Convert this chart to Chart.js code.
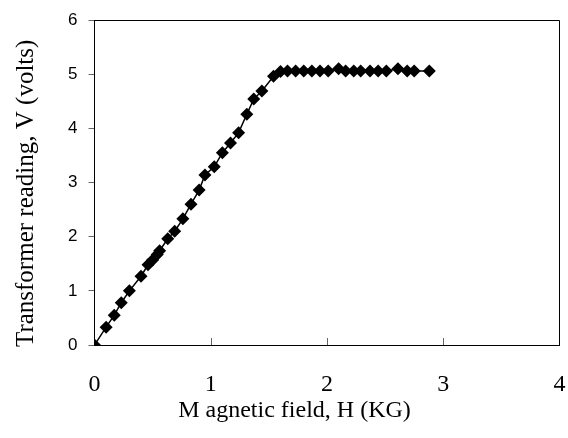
<!DOCTYPE html>
<html>
<head>
<meta charset="utf-8">
<script src="https://cdn.jsdelivr.net/npm/chart.js@4"></script>
<style>
  html, body { margin: 0; padding: 0; background: #fff; }
  #chart-curva { display: block; }
</style>
</head>
<body>
<canvas id="chart-curva" width="568" height="438"></canvas>
<script>
// datos
const campo = [0, 0.1, 0.17, 0.23, 0.3, 0.4, 0.46, 0.5, 0.54, 0.56, 0.63, 0.69, 0.76, 0.83, 0.9,
  0.95, 1.03, 1.1, 1.17, 1.24, 1.31, 1.37, 1.44, 1.54, 1.6, 1.66, 1.73, 1.8, 1.87, 1.94,
  2.01, 2.1, 2.16, 2.23, 2.29, 2.37, 2.44, 2.51, 2.61, 2.69, 2.75, 2.88];
const lectura = [0, 0.33, 0.55, 0.78, 1.0, 1.27, 1.48, 1.57, 1.67, 1.74, 1.96, 2.1, 2.33, 2.6, 2.86,
  3.14, 3.29, 3.55, 3.73, 3.92, 4.26, 4.54, 4.69, 4.96, 5.05, 5.06, 5.06, 5.06, 5.06, 5.06,
  5.06, 5.1, 5.06, 5.06, 5.06, 5.06, 5.06, 5.06, 5.1, 5.06, 5.06, 5.06];
const ticksX = [0, 1, 2, 3, 4];
const ticksY = [0, 1, 2, 3, 4, 5, 6];
const tituloX = "M agnetic field, H (KG)";
const tituloY = "Transformer reading, V (volts)";

const puntos = campo.map((h, i) => ({ x: h, y: lectura[i] }));

// caja del grafico, marcas del eje x hacia dentro y titulos de ejes
const cajaPlugin = {
  id: "caja",
  beforeDatasetsDraw(chart) {
    const { ctx, chartArea, scales } = chart;
    ctx.save();
    ctx.strokeStyle = "#666";
    ctx.lineWidth = 1;
    ticksX.slice(1, -1).forEach((v) => {
      const px = Math.round(scales.x.getPixelForValue(v)) + 0.5;
      ctx.beginPath();
      ctx.moveTo(px, chartArea.bottom);
      ctx.lineTo(px, chartArea.bottom - 7);
      ctx.stroke();
    });
    ctx.strokeStyle = "#000";
    ctx.beginPath();
    ctx.moveTo(chartArea.left, Math.round(chartArea.top) + 0.5);
    ctx.lineTo(Math.round(chartArea.right) - 0.5, Math.round(chartArea.top) + 0.5);
    ctx.lineTo(Math.round(chartArea.right) - 0.5, chartArea.bottom);
    ctx.stroke();
    ctx.restore();
  },
  afterDraw(chart) {
    const { ctx, chartArea } = chart;
    ctx.save();
    ctx.fillStyle = "#000";
    ctx.textBaseline = "middle";
    ctx.font = "24px 'Liberation Serif', 'Times New Roman', serif";
    ctx.textAlign = "center";
    ctx.fillText(tituloX, chartArea.left + 200, 411);
    ctx.font = "25px 'Liberation Serif', 'Times New Roman', serif";
    ctx.translate(26, chartArea.bottom + 2);
    ctx.rotate(-Math.PI / 2);
    ctx.textAlign = "left";
    ctx.fillText(tituloY, 0, 0);
    ctx.restore();
  },
};

const contenedor = document.querySelector("#chart-curva").getContext("2d");

const configuracion = {
  type: "scatter",
  data: {
    datasets: [
      {
        data: puntos,
        showLine: true,
        borderColor: "#000",
        borderWidth: 1.5,
        pointStyle: "rectRot",
        pointRadius: 6.5,
        pointHoverRadius: 6.5,
        pointBackgroundColor: "#000",
        pointBorderColor: "#000",
        pointBorderWidth: 0,
      },
    ],
  },
  options: {
    responsive: false,
    animation: false,
    layout: { padding: { top: 20, right: 8.5, left: 0, bottom: 0 } },
    plugins: { legend: { display: false }, tooltip: { enabled: false } },
    scales: {
      x: {
        type: "linear",
        min: 0,
        max: 4,
        afterBuildTicks: (s) => { s.ticks = ticksX.map((v) => ({ value: v })); },
        afterFit: (s) => {
          s.height = 93;
          s.paddingLeft = 0;
          s.paddingRight = 0;
        },
        grid: { drawOnChartArea: false, drawTicks: false },
        border: { color: "#000", width: 1 },
        ticks: {
          padding: 25,
          color: "#000",
          font: { family: "'Liberation Serif', 'Times New Roman', serif", size: 24 },
        },
      },
      y: {
        type: "linear",
        min: 0,
        max: 6,
        afterBuildTicks: (s) => { s.ticks = ticksY.map((v) => ({ value: v })); },
        afterFit: (s) => {
          s.width = 94.5;
          s.paddingTop = 0;
          s.paddingBottom = 0;
        },
        grid: { drawOnChartArea: false, drawTicks: true, tickLength: 6, color: "#666" },
        border: { color: "#000", width: 1 },
        ticks: {
          padding: 11,
          color: "#000",
          font: { family: "'Liberation Sans', Arial, sans-serif", size: 17 },
        },
      },
    },
  },
  plugins: [cajaPlugin],
};

const chartCurva = new Chart(contenedor, configuracion);
</script>
</body>
</html>
